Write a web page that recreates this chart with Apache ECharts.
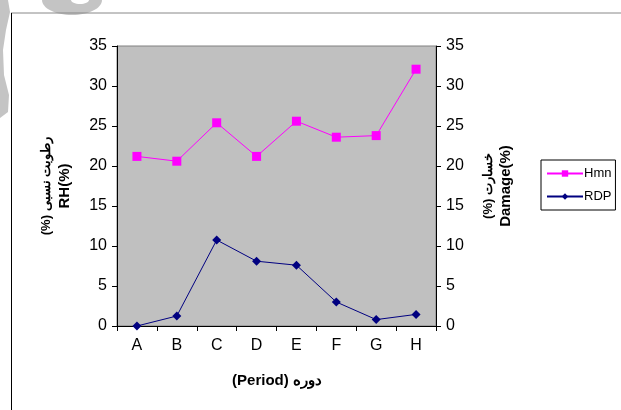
<!DOCTYPE html>
<html><head><meta charset="utf-8">
<script src="https://cdn.jsdelivr.net/npm/echarts@6/dist/echarts.min.js"></script>
<style>html,body{margin:0;padding:0;background:#fff}#c{width:621px;height:410px}</style>
</head><body><div id="c"></div>
<script>
const categories = ['A','B','C','D','E','F','G','H'];
const hmn = [21.2, 20.6, 25.4, 21.2, 25.6, 23.6, 23.8, 32.1];
const rdp = [0, 1.25, 10.75, 8.1, 7.6, 3.0, 0.8, 1.45];
const seriesNames = ['Hmn', 'RDP'];
const yMin = 0, yMax = 35, yStep = 5;

const font = 'Liberation Sans, Arial, sans-serif';
const chart = echarts.init(document.getElementById('c'), null, {renderer: 'canvas'});
const axisCommon = {
  type: 'value', min: yMin, max: yMax, interval: yStep,
  axisLine: {show: true, lineStyle: {color: '#000', width: 1}},
  axisTick: {show: true, length: 5, lineStyle: {color: '#000'}},
  splitLine: {show: false},
  axisLabel: {color: '#000', fontFamily: font, fontSize: 16, margin: 10}
};
chart.setOption({
  animation: false,
  backgroundColor: '#fff',
  graphic: [
    {type: 'polygon', shape: {points: [[0,0],[8,0],[10,12],[6,30],[3,50],[4,75],[9,95],[8,112],[0,118]]}, style: {fill: '#c4c4c4'}, z: 0},
    {type: 'ellipse', shape: {cx: 72, cy: 0, rx: 30, ry: 15}, style: {fill: '#c4c4c4'}, z: 0},
    {type: 'ellipse', shape: {cx: 80, cy: 0, rx: 9, ry: 4}, style: {fill: '#fff'}, z: 0},
    {type: 'line', shape: {x1: 11, y1: 13, x2: 621, y2: 13}, style: {stroke: '#888', lineWidth: 1}, z: 1},
    {type: 'line', shape: {x1: 11.5, y1: 13, x2: 11.5, y2: 410}, style: {stroke: '#000', lineWidth: 1}, z: 1},
    {type: 'text', x: 46, y: 186, rotation: Math.PI/2, style: {text: '(%) رطوبت نسبی', font: 'bold 13px ' + font, fill: '#000', align: 'center', verticalAlign: 'middle'}},
    {type: 'text', x: 65, y: 186, rotation: Math.PI/2, style: {text: 'RH(%)', font: 'bold 15px ' + font, fill: '#000', align: 'center', verticalAlign: 'middle'}},
    {type: 'text', x: 488, y: 186, rotation: Math.PI/2, style: {text: '(%) خسارت', font: 'bold 13px ' + font, fill: '#000', align: 'center', verticalAlign: 'middle'}},
    {type: 'text', x: 506, y: 186, rotation: Math.PI/2, style: {text: 'Damage(%)', font: 'bold 15px ' + font, fill: '#000', align: 'center', verticalAlign: 'middle'}},
    {type: 'text', x: 277, y: 381, style: {text: '(Period) دوره', font: 'bold 15px ' + font, fill: '#000', align: 'center', verticalAlign: 'middle'}}
  ],
  grid: {left: 117, right: 185, top: 46, bottom: 84, show: true, backgroundColor: '#c0c0c0', borderColor: '#808080', borderWidth: 1},
  legend: {
    orient: 'vertical', left: 541, top: 160, width: 76,
    backgroundColor: '#fff', borderColor: '#000', borderWidth: 1,
    padding: [7, 4, 7, 5], itemGap: 10, itemWidth: 36, itemHeight: 8,
    textStyle: {fontFamily: font, fontSize: 13, color: '#000', padding: [0, 0, 0, -4]},
    data: seriesNames.map(n => ({name: n}))
  },
  xAxis: {
    type: 'category', data: categories, boundaryGap: true,
    axisLine: {lineStyle: {color: '#000'}},
    axisTick: {show: true, length: 5, alignWithLabel: false, lineStyle: {color: '#000'}},
    axisLabel: {color: '#000', fontFamily: font, fontSize: 16, margin: 12}
  },
  yAxis: [
    Object.assign({}, axisCommon, {position: 'left'}),
    Object.assign({}, axisCommon, {position: 'right'})
  ],
  series: [
    {name: seriesNames[0], type: 'line', data: hmn, yAxisIndex: 0, symbol: 'rect', symbolSize: 9,
     lineStyle: {color: '#ff00ff', width: 1}, itemStyle: {color: '#ff00ff'}},
    {name: seriesNames[1], type: 'line', data: rdp, yAxisIndex: 1, symbol: 'diamond', symbolSize: 9,
     lineStyle: {color: '#000080', width: 1}, itemStyle: {color: '#000080'}}
  ]
});
</script></body></html>
